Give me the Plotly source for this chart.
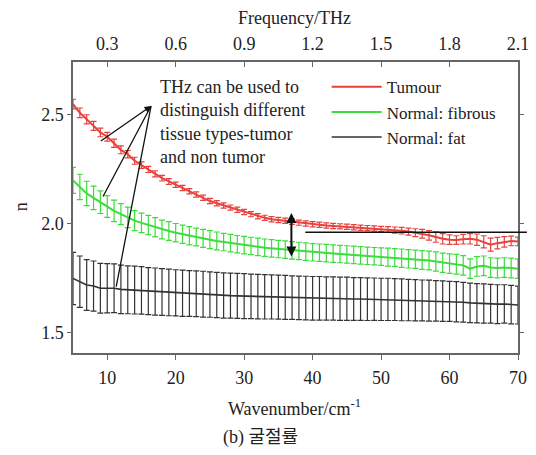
import plotly.graph_objects as go

wavenumber = [5, 6, 7, 8, 9, 10, 11, 12, 13, 14, 15, 16, 17, 18, 19, 20, 21, 22, 23, 24,
              25, 26, 27, 28, 29, 30, 31, 32, 33, 34, 35, 36, 37, 38, 39, 40, 41, 42, 43, 44,
              45, 46, 47, 48, 49, 50, 51, 52, 53, 54, 55, 56, 57, 58, 59, 60, 61, 62, 63, 64,
              65, 66, 67, 68, 69, 70]

tumour = [2.55, 2.51, 2.48, 2.45, 2.42, 2.40, 2.37, 2.34, 2.32, 2.29,
          2.27, 2.25, 2.23, 2.21, 2.195, 2.18, 2.165, 2.15, 2.135, 2.12,
          2.105, 2.095, 2.085, 2.075, 2.065, 2.055, 2.045, 2.035, 2.028, 2.022,
          2.018, 2.015, 2.010, 2.006, 2.002, 1.999, 1.996, 1.993, 1.991, 1.989,
          1.987, 1.985, 1.983, 1.981, 1.979, 1.977, 1.975, 1.972, 1.969, 1.965,
          1.960, 1.955, 1.948, 1.940, 1.932, 1.928, 1.926, 1.930, 1.932, 1.928,
          1.918, 1.905, 1.912, 1.918, 1.922, 1.920]
tumour_err = [0.022, 0.022, 0.021, 0.021, 0.020, 0.020, 0.019, 0.018, 0.017, 0.016,
              0.015, 0.014, 0.014, 0.013, 0.013, 0.012, 0.012, 0.012, 0.012, 0.012,
              0.012, 0.012, 0.012, 0.012, 0.012, 0.012, 0.012, 0.012, 0.012, 0.012,
              0.012, 0.012, 0.012, 0.012, 0.012, 0.012, 0.012, 0.012, 0.012, 0.012,
              0.012, 0.012, 0.012, 0.012, 0.012, 0.012, 0.013, 0.014, 0.015, 0.016,
              0.018, 0.020, 0.022, 0.024, 0.024, 0.022, 0.020, 0.022, 0.024, 0.026,
              0.028, 0.030, 0.026, 0.024, 0.022, 0.020]

fibrous = [2.20, 2.17, 2.14, 2.12, 2.10, 2.08, 2.06, 2.045, 2.03, 2.015,
           2.005, 1.995, 1.985, 1.975, 1.968, 1.960, 1.953, 1.946, 1.940, 1.934,
           1.928, 1.922, 1.917, 1.912, 1.907, 1.903, 1.899, 1.895, 1.891, 1.888,
           1.885, 1.882, 1.879, 1.876, 1.873, 1.870, 1.868, 1.866, 1.864, 1.862,
           1.860, 1.858, 1.856, 1.854, 1.852, 1.850, 1.848, 1.846, 1.843, 1.840,
           1.838, 1.835, 1.832, 1.828, 1.822, 1.818, 1.815, 1.810, 1.795, 1.805,
           1.808, 1.800, 1.798, 1.800, 1.798, 1.795]
fibrous_err = [0.060, 0.058, 0.056, 0.054, 0.052, 0.050, 0.049, 0.048, 0.047, 0.046,
               0.045, 0.044, 0.044, 0.043, 0.043, 0.042, 0.042, 0.042, 0.041, 0.041,
               0.041, 0.041, 0.040, 0.040, 0.040, 0.040, 0.040, 0.040, 0.040, 0.040,
               0.040, 0.040, 0.040, 0.040, 0.040, 0.040, 0.040, 0.040, 0.040, 0.040,
               0.040, 0.040, 0.040, 0.040, 0.040, 0.040, 0.041, 0.041, 0.042, 0.042,
               0.042, 0.043, 0.043, 0.044, 0.044, 0.045, 0.045, 0.045, 0.045, 0.045,
               0.045, 0.045, 0.045, 0.045, 0.045, 0.045]

fat = [1.750, 1.735, 1.720, 1.715, 1.705, 1.705, 1.705, 1.700, 1.698, 1.697,
       1.695, 1.692, 1.690, 1.688, 1.686, 1.684, 1.682, 1.681, 1.680, 1.678,
       1.676, 1.674, 1.672, 1.671, 1.670, 1.669, 1.668, 1.667, 1.666, 1.665,
       1.664, 1.663, 1.662, 1.661, 1.660, 1.659, 1.659, 1.658, 1.658, 1.657,
       1.657, 1.656, 1.656, 1.655, 1.655, 1.654, 1.654, 1.653, 1.652, 1.651,
       1.650, 1.649, 1.648, 1.647, 1.646, 1.645, 1.643, 1.641, 1.638, 1.636,
       1.635, 1.634, 1.632, 1.633, 1.630, 1.628]
fat_err = [0.120, 0.118, 0.116, 0.115, 0.114, 0.113, 0.112, 0.111, 0.110, 0.110,
           0.109, 0.108, 0.108, 0.107, 0.107, 0.106, 0.106, 0.105, 0.105, 0.105,
           0.104, 0.104, 0.104, 0.103, 0.103, 0.103, 0.102, 0.102, 0.102, 0.101,
           0.101, 0.101, 0.100, 0.100, 0.100, 0.100, 0.100, 0.099, 0.099, 0.099,
           0.099, 0.098, 0.098, 0.098, 0.097, 0.097, 0.097, 0.096, 0.096, 0.095,
           0.095, 0.094, 0.094, 0.093, 0.093, 0.092, 0.092, 0.091, 0.091, 0.090,
           0.090, 0.089, 0.089, 0.088, 0.088, 0.087]

series_names = ["Tumour", "Normal: fibrous", "Normal: fat"]
series_colors = ["#e8413c", "#3ddc3d", "#333333"]

x_ticks = [10, 20, 30, 40, 50, 60, 70]
freq_ticks = [0.3, 0.6, 0.9, 1.2, 1.5, 1.8, 2.1]
freq_labels = ["0.3", "0.6", "0.9", "1.2", "1.5", "1.8", "2.1"]
y_ticks = [1.5, 2.0, 2.5]
y_labels = ["1.5", "2.0", "2.5"]

FONT = '"Liberation Serif", "Times New Roman", "DejaVu Serif", "Noto Sans CJK KR", serif'
FS = 18
TXT = "#222222"
AX = "#666666"

fig = go.Figure()
for name, ys, errs, col, lw in zip(series_names, [tumour, fibrous, fat],
                                   [tumour_err, fibrous_err, fat_err],
                                   series_colors, [2, 2, 1.6]):
    fig.add_trace(go.Scatter(
        x=wavenumber, y=ys, name=name, mode="lines",
        line=dict(color=col, width=lw),
        error_y=dict(type="data", array=errs, visible=True, color=col,
                     thickness=1.2, width=3),
        hoverinfo="skip",
    ))

# invisible trace for the frequency (top) axis
fig.add_trace(go.Scatter(x=[0.15, 2.1], y=[None, None], xaxis="x2", yaxis="y",
                         showlegend=False, hoverinfo="skip", mode="lines"))

fig.update_layout(
    width=528, height=447,
    margin=dict(l=65, r=7, t=54, b=102),
    paper_bgcolor="white", plot_bgcolor="white",
    font=dict(family=FONT, size=FS, color=TXT),
    showlegend=True,
    legend=dict(x=0.570, y=0.975, xanchor="left", yanchor="top",
                bgcolor="rgba(0,0,0,0)", font=dict(size=17, family=FONT, color=TXT),
                itemwidth=50, tracegroupgap=0),
    xaxis=dict(range=[5, 70], tickvals=x_ticks, ticks="outside", ticklen=5,
               tickcolor=AX, showline=True, linecolor=AX, linewidth=1.5,
               showgrid=False, zeroline=False, mirror=False, ticklabelstandoff=3,
               tickfont=dict(size=FS, family=FONT, color=TXT)),
    xaxis2=dict(range=[0.15, 2.1], overlaying="x", side="top", anchor="y",
                tickvals=freq_ticks, ticktext=freq_labels, ticks="inside", ticklen=5,
                tickcolor=AX, showline=True, linecolor=AX, linewidth=1.5,
                showgrid=False, zeroline=False, ticklabelstandoff=3,
                tickfont=dict(size=FS, family=FONT, color=TXT)),
    yaxis=dict(range=[1.408, 2.743], tickvals=y_ticks, ticktext=y_labels,
               ticks="outside", ticklen=4, tickcolor=AX, showline=True,
               linecolor=AX, linewidth=1.5, mirror="ticks", showgrid=False,
               zeroline=False, tickfont=dict(size=FS, family=FONT, color=TXT)),
)

anns = [
    dict(text="Frequency/THz", x=0.498, y=1.151, xref="paper", yref="paper",
         xanchor="center", yanchor="middle", showarrow=False, font=dict(size=FS)),
    dict(text="Wavenumber/cm<sup>-1</sup>", x=0.498, y=-0.189, xref="paper", yref="paper",
         xanchor="center", yanchor="middle", showarrow=False, font=dict(size=FS)),
    dict(text="(b) 굴절률", x=0.421, y=-0.289, xref="paper", yref="paper",
         xanchor="center", yanchor="middle", showarrow=False, font=dict(size=FS)),
    dict(text="n", x=-0.116, y=0.502, xref="paper", yref="paper", textangle=-90,
         xanchor="center", yanchor="middle", showarrow=False, font=dict(size=FS)),
    dict(text="THz can be used to<br>distinguish different<br>tissue types-tumor<br>and non tumor",
         x=0.190, y=0.955, xref="paper", yref="paper", xanchor="left", yanchor="top",
         align="left", showarrow=False, font=dict(size=FS)),
]
# pointer lines from the text to the three curves
conv_x, conv_y = 16.4, 2.541
ends = [(8.85, 2.376), (9.27, 2.119), (11.27, 1.706)]
for i, (ex, ey) in enumerate(ends):
    anns.append(dict(x=conv_x, y=conv_y, ax=ex, ay=ey, xref="x", yref="y",
                     axref="x", ayref="y", text="", showarrow=True,
                     arrowhead=2 if i == 0 else 0, arrowsize=1, arrowwidth=1.3,
                     arrowcolor="#111111"))
# double arrow between tumour and fibrous
anns.append(dict(x=36.9, y=2.05, ax=36.9, ay=1.844, xref="x", yref="y",
                 axref="x", ayref="y", text="", showarrow=True, arrowhead=2,
                 arrowside="end+start", arrowsize=1, arrowwidth=2,
                 arrowcolor="#111111"))
fig.update_layout(annotations=anns)

fig.add_shape(type="line", xref="paper", yref="y", x0=0.522, x1=1.02, y0=1.962, y1=1.962,
              line=dict(color="#111111", width=1.5))

fig.write_html("out.html")
